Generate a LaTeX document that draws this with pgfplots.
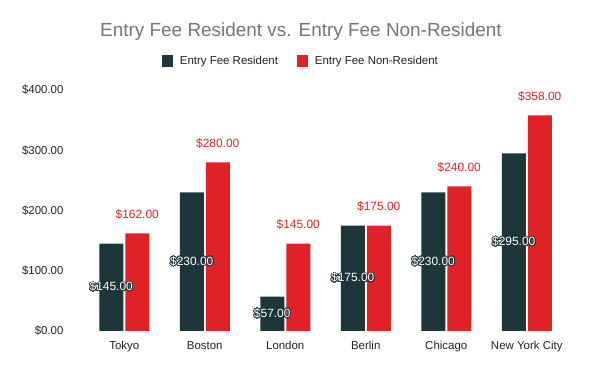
\documentclass[border=0pt]{standalone}
\usepackage{pgfplots}
\pgfplotsset{compat=1.18}
\usepackage{fontspec}
\setmainfont{Liberation Sans}
\usepackage{contour}
\contourlength{0.8pt}
\contournumber{16}
\definecolor{dk}{HTML}{1D363C}
\definecolor{rd}{HTML}{E02226}
\definecolor{tt}{HTML}{757575}
\definecolor{lb}{HTML}{222222}
\begin{document}
\begin{tikzpicture}
\path[use as bounding box] (0,0) rectangle (600bp,371bp);
\node[text=tt, font=\fontsize{19}{22}\selectfont] at (301bp,339bp) {Entry Fee Resident vs. Entry Fee Non-Resident};
\begin{axis}[
  at={(84bp,40bp)}, anchor=south west,
  scale only axis, width=483bp, height=241bp,
  xmin=-0.5, xmax=5.5, ymin=0, ymax=400,
  ybar, bar width=24bp,
  axis line style={draw=none}, major tick length=0pt,
  xtick={0,1,2,3,4,5},
  xticklabels={Tokyo,Boston,London,Berlin,Chicago,New York City},
  ytick={0,100,200,300,400},
  /pgf/number format/assume math mode=true,
  yticklabel={\$\pgfmathprintnumber[fixed,fixed zerofill,precision=2]{\tick}},
  ticklabel style={font=\fontsize{11.5}{13}\selectfont, text=lb},
  yticklabel style={xshift=-17bp},
  xticklabel style={yshift=-7bp},
  legend style={at={(0.449,1)}, anchor=center, yshift=29bp, draw=none,
    font=\fontsize{11.5}{13}\selectfont, text=lb,
    /tikz/every odd column/.append style={column sep=5bp},
    /tikz/every even column/.append style={column sep=17bp}},
  legend columns=-1,
  legend image code/.code={\fill[#1] (0bp,-5.5bp) rectangle (11bp,5.5bp);},
]
\addplot[fill=dk, draw=none, bar shift=-13bp,
  visualization depends on={rawy \as \ry},
  nodes near coords={\contour{dk}{\$\pgfmathprintnumber[fixed,fixed zerofill,precision=2]{\pgfplotspointmeta}}},
  every node near coord/.append style={anchor=center, text=white,
    font=\fontsize{12}{14}\selectfont, shift={(axis direction cs:0,-\ry/2)}},
] coordinates {(0,145) (1,230) (2,57) (3,175) (4,230) (5,295)};
\addlegendentry{Entry Fee Resident}
\addplot[fill=rd, draw=none, bar shift=13bp,
  nodes near coords={\$\pgfmathprintnumber[fixed,fixed zerofill,precision=2]{\pgfplotspointmeta}},
  every node near coord/.append style={anchor=center, text=rd, yshift=19bp,
    font=\fontsize{12}{14}\selectfont},
] coordinates {(0,162) (1,280) (2,145) (3,175) (4,240) (5,358)};
\addlegendentry{Entry Fee Non-Resident}
\end{axis}
\end{tikzpicture}
\end{document}
